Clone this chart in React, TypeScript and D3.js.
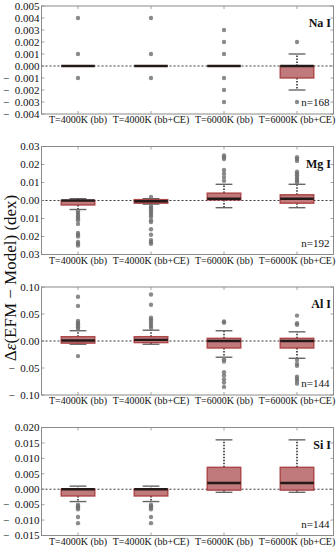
import React, { useEffect, useRef } from 'react';
import * as d3 from 'd3';

const categories = ['T=4000K (bb)', 'T=4000K (bb+CE)', 'T=6000K (bb)', 'T=6000K (bb+CE)'];
const elements = ['Na I', 'Mg I', 'Al I', 'Si I'];
const counts = [168, 192, 144, 144];

// [lower whisker, q1, median, q3, upper whisker]
const naStats = [
  [0, 0, 0, 0, 0],
  [0, 0, 0, 0, 0],
  [0, 0, 0, 0, 0],
  [-0.002, -0.001, 0, 0, 0.001],
];
const naOutliers = [
  [0.004, 0.001, -0.001],
  [0.004, 0.001, -0.001],
  [0.003, 0.002, 0.001, -0.001, -0.002, -0.003],
  [0.002, -0.003],
];
const mgStats = [
  [-0.005, -0.0025, 0, 0, 0.001],
  [-0.002, -0.0015, -0.0004, 0.0005, 0.001],
  [-0.004, 0.0003, 0.001, 0.0041, 0.009],
  [-0.004, -0.0015, 0.001, 0.0032, 0.009],
];
const mgOutliers = [
  [-0.006, -0.007, -0.008, -0.009, -0.01, -0.011, -0.013, -0.018, -0.019, -0.02, -0.023, -0.024, -0.025],
  [0.002, -0.003, -0.004, -0.005, -0.006, -0.007, -0.008, -0.009, -0.011, -0.012, -0.016, -0.019, -0.022, -0.023, -0.024],
  [0.025, 0.024, 0.023, 0.017, 0.015, 0.013, 0.011],
  [0.024, 0.023, 0.022, 0.016, 0.015, 0.014, 0.013, 0.012, 0.011, 0.01],
];
const alStats = [
  [-0.006, -0.004, 0.001, 0.008, 0.019],
  [-0.006, -0.003, 0.002, 0.008, 0.02],
  [-0.03, -0.013, 0, 0.005, 0.019],
  [-0.032, -0.013, 0, 0.005, 0.017],
];
const alOutliers = [
  [0.082, 0.065, 0.037, 0.034, 0.031, 0.028, 0.025, 0.022, -0.028],
  [0.086, 0.067, 0.043, 0.04, 0.036, 0.032, 0.028, 0.024],
  [0.036, 0.034, -0.034, -0.038, -0.058, -0.064, -0.071, -0.077, -0.085],
  [0.047, 0.033, 0.03, -0.035, -0.042, -0.046, -0.066, -0.07, -0.074, -0.079],
];
const siStats = [
  [-0.004, -0.0022, 0, 0, 0.001],
  [-0.004, -0.0022, 0, 0, 0.001],
  [-0.001, -0.0003, 0.002, 0.0071, 0.016],
  [-0.001, -0.0003, 0.002, 0.0071, 0.016],
];
const siOutliers = [
  [-0.005, -0.0055, -0.006, -0.0065, -0.009, -0.011],
  [-0.005, -0.0055, -0.006, -0.0065, -0.009, -0.011],
  [],
  [],
];

const naTicks = [-0.004, -0.003, -0.002, -0.001, 0, 0.001, 0.002, 0.003, 0.004, 0.005];
const mgTicks = [-0.03, -0.02, -0.01, 0, 0.01, 0.02, 0.03];
const alTicks = [-0.1, -0.05, 0, 0.05, 0.1];
const siTicks = [-0.015, -0.01, -0.005, 0, 0.005, 0.01, 0.015, 0.02];

const panels = [
  { stats: naStats, outliers: naOutliers, ticks: naTicks, digits: 3 },
  { stats: mgStats, outliers: mgOutliers, ticks: mgTicks, digits: 2 },
  { stats: alStats, outliers: alOutliers, ticks: alTicks, digits: 2 },
  { stats: siStats, outliers: siOutliers, ticks: siTicks, digits: 3 },
];

const W = 336;
const H = 548;
const FONT = '"Liberation Serif", "DejaVu Serif", serif';

export default function App() {
  const ref = useRef<SVGSVGElement | null>(null);

  useEffect(() => {
    if (!ref.current) return;
    const svg = d3.select(ref.current);
    svg.selectAll('*').remove();

    const left = 41.5;
    const right = 333.5;
    const panelTops = [6, 146.5, 287, 427.5];
    const panelH = 108;
    const frame = '#8a8a8a';

    const x = d3.scaleBand<string>().domain(categories).range([left, right]).padding(0);
    const boxW = x.bandwidth() * 0.46;
    const capW = boxW * 0.5;

    panels.forEach((p, pi) => {
      const top = panelTops[pi];
      const bottom = top + panelH;
      const tk = p.ticks;
      const y = d3.scaleLinear().domain([tk[0], tk[tk.length - 1]]).range([bottom, top]);
      const g = svg.append('g');

      // zero reference line
      g.append('line')
        .attr('x1', left).attr('x2', right)
        .attr('y1', y(0)).attr('y2', y(0))
        .attr('stroke', '#222').attr('stroke-width', 0.9).attr('stroke-dasharray', '2,2');

      categories.forEach((c, ci) => {
        const [lo, q1, med, q3, hi] = p.stats[ci];
        const cx = x(c)! + x.bandwidth() / 2;

        // whiskers
        const wg = g.append('g');
        wg.append('line').attr('x1', cx).attr('x2', cx).attr('y1', y(q3)).attr('y2', y(hi))
          .attr('stroke', '#222').attr('stroke-width', 1.5).attr('stroke-dasharray', '1.5,1.5');
        wg.append('line').attr('x1', cx).attr('x2', cx).attr('y1', y(q1)).attr('y2', y(lo))
          .attr('stroke', '#222').attr('stroke-width', 1.5).attr('stroke-dasharray', '1.5,1.5');
        if (hi !== q3) {
          wg.append('line').attr('x1', cx - capW / 2).attr('x2', cx + capW / 2).attr('y1', y(hi)).attr('y2', y(hi))
            .attr('stroke', '#666').attr('stroke-width', 1.4);
        }
        if (lo !== q1) {
          wg.append('line').attr('x1', cx - capW / 2).attr('x2', cx + capW / 2).attr('y1', y(lo)).attr('y2', y(lo))
            .attr('stroke', '#666').attr('stroke-width', 1.4);
        }

        // box
        g.append('rect')
          .attr('x', cx - boxW / 2).attr('width', boxW)
          .attr('y', y(q3)).attr('height', Math.max(0, y(q1) - y(q3)))
          .attr('fill', '#c07a7b').attr('stroke', '#a63a3c').attr('stroke-width', 1.4)
          .attr('stroke-opacity', 0.9);

        // median
        g.append('line').attr('x1', cx - boxW / 2).attr('x2', cx + boxW / 2)
          .attr('y1', y(med)).attr('y2', y(med))
          .attr('stroke', '#241818').attr('stroke-width', 2.4);

        // outliers
        g.selectAll(null).data(p.outliers[ci]).join('circle')
          .attr('cx', cx).attr('cy', (d) => y(d)).attr('r', 2.2)
          .attr('fill', '#6e6e6e').attr('fill-opacity', 0.8);
      });

      // frame
      g.append('rect').attr('x', left).attr('y', top).attr('width', right - left).attr('height', panelH)
        .attr('fill', 'none').attr('stroke', frame).attr('stroke-width', 1);

      // y ticks (left and right, inward)
      tk.forEach((t) => {
        g.append('line').attr('x1', left).attr('x2', left + 3).attr('y1', y(t)).attr('y2', y(t))
          .attr('stroke', frame).attr('stroke-width', 0.8);
        g.append('line').attr('x1', right).attr('x2', right - 3).attr('y1', y(t)).attr('y2', y(t))
          .attr('stroke', frame).attr('stroke-width', 0.8);
        const s = Math.abs(t).toFixed(p.digits);
        g.append('text').attr('x', left - 2).attr('y', y(t) + 3.8)
          .attr('text-anchor', 'end').attr('font-family', FONT).attr('font-size', 11).attr('fill', '#111')
          .text(t < 0 ? '\u2212\u2002' + s : s);
      });

      // x ticks (top and bottom, inward) and labels
      categories.forEach((c) => {
        const cx = x(c)! + x.bandwidth() / 2;
        g.append('line').attr('x1', cx).attr('x2', cx).attr('y1', top).attr('y2', top + 3)
          .attr('stroke', frame).attr('stroke-width', 0.8);
        g.append('line').attr('x1', cx).attr('x2', cx).attr('y1', bottom).attr('y2', bottom - 3)
          .attr('stroke', frame).attr('stroke-width', 0.8);
        g.append('text').attr('x', cx).attr('y', bottom + 9)
          .attr('text-anchor', 'middle').attr('font-family', FONT).attr('font-size', 10).attr('fill', '#111')
          .text(c);
      });

      g.append('text').attr('x', right - 2.5).attr('y', top + 21)
        .attr('text-anchor', 'end').attr('font-family', FONT).attr('font-size', 12).attr('font-weight', 'bold')
        .attr('fill', '#111').text(elements[pi]);
      g.append('text').attr('x', right - 4).attr('y', bottom - 8)
        .attr('text-anchor', 'end').attr('font-family', FONT).attr('font-size', 11)
        .attr('fill', '#111').text(`n=${counts[pi]}`);
    });

    // shared y-axis title
    const title = svg.append('text')
      .attr('transform', `translate(16, ${278}) rotate(-90)`)
      .attr('text-anchor', 'middle').attr('font-family', FONT).attr('font-size', 17).attr('fill', '#111');
    title.append('tspan').text('\u0394');
    title.append('tspan').attr('font-style', 'italic').text('\u03b5');
    title.append('tspan').text('(EFM \u2212 Model)  (dex)');
  }, []);

  return (
    <svg
      ref={ref}
      width={W}
      height={H}
      style={{ position: 'absolute', left: 0, top: 0, background: '#fff' }}
    />
  );
}
